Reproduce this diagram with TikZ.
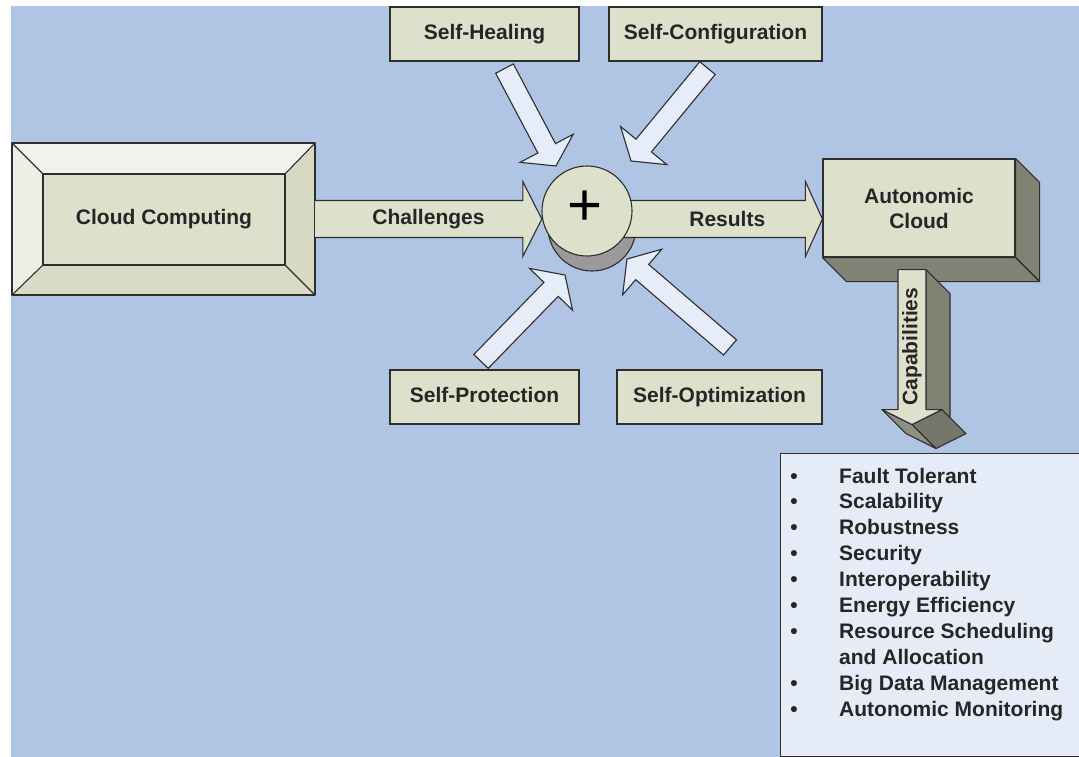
\documentclass[tikz,border=0pt]{standalone}
\usepackage{fontspec}
\setmainfont{Liberation Sans}
\usetikzlibrary{calc}
\definecolor{bg}{HTML}{B0C4E4}
\definecolor{boxfill}{HTML}{DDE0CB}
\definecolor{lightarr}{HTML}{E6ECF8}
\definecolor{listfill}{HTML}{E6ECF7}
\definecolor{side}{HTML}{808274}
\definecolor{sidedark}{HTML}{75776A}
\definecolor{sidelight}{HTML}{8E9082}
\definecolor{edge}{HTML}{2E2E2E}
\definecolor{bevtop}{HTML}{F1F2EB}
\definecolor{bevleft}{HTML}{EDEFE5}
\definecolor{bevright}{HTML}{D6DAC3}
\definecolor{bevbot}{HTML}{D8DCC5}
\definecolor{shadowgray}{HTML}{9A9A9A}
\tikzset{
  lbl/.style={font=\fontsize{21}{25}\selectfont\bfseries, text=black!85},
  selfbox/.style={draw=edge, line width=1.2pt, fill=boxfill, minimum height=54pt, inner sep=0pt, text height=15pt, text depth=4.5pt, lbl},
  face/.style={draw=edge, line width=1.1pt, line join=round},
  fatarr/.style={draw=edge, line width=1.1pt, fill=lightarr, line join=miter},
  conn/.style={draw=edge, line width=1.1pt, fill=boxfill, line join=miter},
}
\newcommand\fatarrow[3]{%
  \coordinate (#3h) at ($(#2)!20pt!(#1)$);
  \filldraw[fatarr] ($(#1)!10pt!90:(#2)$) -- ($(#3h)!10pt!-90:(#1)$) -- ($(#3h)!30pt!-90:(#1)$) -- (#2)
    -- ($(#3h)!30pt!90:(#1)$) -- ($(#3h)!10pt!90:(#1)$) -- ($(#1)!10pt!-90:(#2)$) -- cycle;}
\begin{document}
\begin{tikzpicture}[x=1pt,y=-1pt]
\useasboundingbox (0,0) rectangle (1079,757);
\fill[bg] (11,6) rectangle (1079,757);

% Cloud Computing bevelled box
\path (163.5,219) node[minimum width=303pt, minimum height=152pt, inner sep=0pt] (cc) {};
\fill[bevtop] (12,143) -- (315,143) -- (285,174) -- (43,174) -- cycle;
\fill[bevleft] (12,143) -- (43,174) -- (43,265) -- (12,295) -- cycle;
\fill[bevright] (315,143) -- (315,295) -- (285,265) -- (285,174) -- cycle;
\fill[bevbot] (12,295) -- (43,265) -- (285,265) -- (315,295) -- cycle;
\draw[face] (12,143) rectangle (315,295);
\draw[face] (12,143) -- (43,174) (315,143) -- (285,174) (12,295) -- (43,265) (315,295) -- (285,265);
\node[draw=edge, line width=1.2pt, fill=boxfill, minimum width=242pt, minimum height=91pt, inner sep=0pt, lbl] (ccin) at (164,219.5) {Cloud Computing};

% self boxes
\node[selfbox, minimum width=189pt] (heal) at (484.5,34) {Self-Healing};
\node[selfbox, minimum width=213pt] (conf) at (715.5,34) {Self-Configuration};
\node[selfbox, minimum width=189pt] (prot) at (484.5,397) {Self-Protection};
\node[selfbox, minimum width=205pt] (opt) at (719.5,397) {Self-Optimization};

% circle (placeholder node)
\path (587,211) node[circle, minimum size=90pt, inner sep=0pt] (circ) {};

% Autonomic cloud 3D box
\node[draw=edge, line width=1.2pt, fill=boxfill, minimum width=192pt, minimum height=98pt, inner sep=0pt, lbl, align=center] (ac) at (919,208) {Autonomic\\Cloud};
\filldraw[face, fill=side] (ac.north east) -- ++(24,24) -- ($(ac.south east)+(24,24)$) -- (ac.south east) -- cycle;
\filldraw[face, fill=side] (ac.south west) -- (ac.south east) -- ++(24,24) -- ($(ac.south west)+(24,24)$) -- cycle;

% shadow of circle
\filldraw[fill=shadowgray, draw=edge, line width=1.1pt] (592,227) circle (44pt);

% Results arrow
\coordinate (tipr) at (ac.west |- cc.east);
\filldraw[conn] (circ.center |- {$(cc.east)+(0,-18.5)$}) -- ($(tipr)+(-17,-18.5)$) -- ($(tipr)+(-17,-37.5)$) -- (tipr)
  -- ($(tipr)+(-17,37.5)$) -- ($(tipr)+(-17,18.5)$) -- (circ.center |- {$(cc.east)+(0,18.5)$});
\node[lbl] (res) at ($(circ.east |- cc.east)!0.5!(tipr)$) {Results};

% Challenges arrow
\coordinate (tipc) at (cc.east -| circ.west);
\filldraw[conn] ($(cc.east)+(0,-18.5)$) -- ($(tipc)+(-19,-18.5)$) -- ($(tipc)+(-19,-37.5)$) -- (tipc)
  -- ($(tipc)+(-19,37.5)$) -- ($(tipc)+(-19,18.5)$) -- ($(cc.east)+(0,18.5)$);
\node[lbl] (chl) at ($(cc.east)!0.5!(tipc)$) {Challenges};

% circle
\filldraw[fill=boxfill, draw=edge, line width=1.1pt] (circ.center) circle (45pt);
\node[font=\fontsize{60}{60}\selectfont, text=black, inner sep=0pt] (plus) at ($(circ.center)+(-2,-3)$) {+};

% four incoming arrows
\coordinate (hA) at ($(heal.south)+(20,7)$);
\coordinate (hB) at ($(circ.center)+(-31,-45)$);
\fatarrow{hA}{hB}{hh}
\coordinate (cA) at ($(conf.south)+(-8,6.5)$);
\coordinate (cB) at ($(circ.center)+(44,-50)$);
\fatarrow{cA}{cB}{ch}
\coordinate (pA) at ($(prot.north)+(-3.5,-8)$);
\coordinate (pB) at ($(circ.center)+(-22,64)$);
\fatarrow{pA}{pB}{ph}
\coordinate (oA) at ($(opt.north)+(10.5,-22)$);
\coordinate (oB) at ($(circ.center)+(40,48)$);
\fatarrow{oA}{oB}{oh}

% Capabilities 3D arrow
\coordinate (capTop) at ($(ac.south)+(-7,12)$);
\begin{scope}[shift={(capTop)}]
  \filldraw[face, fill=side] (14,0) -- (38,24) -- (38,164) -- (14,140) -- cycle;
  \filldraw[face, fill=sidedark] (0,155) -- (30,140) -- (54,164) -- (24,179) -- cycle;
  \filldraw[face, fill=sidelight] (-30,140) -- (0,155) -- (24,179) -- (-6,164) -- cycle;
  \filldraw[face, fill=boxfill] (-14,0) -- (14,0) -- (14,140) -- (30,140) -- (0,155) -- (-30,140) -- (-14,140) -- cycle;
  \node[lbl, rotate=90] (cap) at (0,77) {Capabilities};
\end{scope}

% list of capabilities
\node[draw=edge, fill=listfill, line width=1.2pt, anchor=north west, minimum width=310pt, minimum height=303pt, inner sep=0pt] (list) at (780,453) {};
\begin{scope}[every node/.style={lbl, inner sep=0pt}]
  \node[anchor=base] (b1) at ($(list.north west)+(14,30)$) {\textbullet};
  \node[anchor=base west] (t1) at ($(list.north west)+(59,30)$) {Fault Tolerant};
  \node[anchor=base] (b2) at ($(list.north west)+(14,55.9)$) {\textbullet};
  \node[anchor=base west] (t2) at ($(list.north west)+(59,55.9)$) {Scalability};
  \node[anchor=base] (b3) at ($(list.north west)+(14,81.8)$) {\textbullet};
  \node[anchor=base west] (t3) at ($(list.north west)+(59,81.8)$) {Robustness};
  \node[anchor=base] (b4) at ($(list.north west)+(14,107.7)$) {\textbullet};
  \node[anchor=base west] (t4) at ($(list.north west)+(59,107.7)$) {Security};
  \node[anchor=base] (b5) at ($(list.north west)+(14,133.6)$) {\textbullet};
  \node[anchor=base west] (t5) at ($(list.north west)+(59,133.6)$) {Interoperability};
  \node[anchor=base] (b6) at ($(list.north west)+(14,159.5)$) {\textbullet};
  \node[anchor=base west] (t6) at ($(list.north west)+(59,159.5)$) {Energy Efficiency};
  \node[anchor=base] (b7) at ($(list.north west)+(14,185.4)$) {\textbullet};
  \node[anchor=base west] (t7) at ($(list.north west)+(59,185.4)$) {Resource Scheduling};
  \node[anchor=base west] (t8) at ($(list.north west)+(59,211.3)$) {and Allocation};
  \node[anchor=base] (b9) at ($(list.north west)+(14,237.2)$) {\textbullet};
  \node[anchor=base west] (t9) at ($(list.north west)+(59,237.2)$) {Big Data Management};
  \node[anchor=base] (b10) at ($(list.north west)+(14,263.1)$) {\textbullet};
  \node[anchor=base west] (t10) at ($(list.north west)+(59,263.1)$) {Autonomic Monitoring};
\end{scope}
\end{tikzpicture}
\end{document}
